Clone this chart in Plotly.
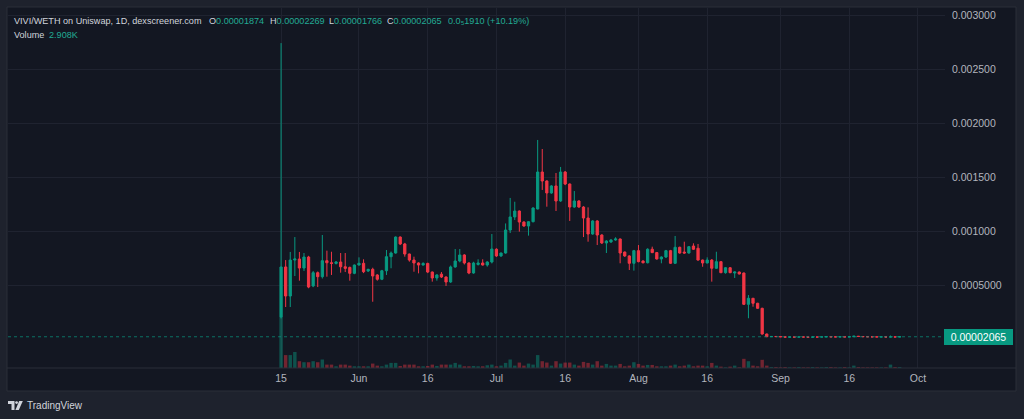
import plotly.graph_objects as go
import pandas as pd

# ---------------- data (prices in micro-ETH, i.e. x 1e-6) ----------------
START_DATE = "2024-05-15"
PRICE_UNIT = 1e-6

open_u = [204, 667, 398, 731, 741, 657, 759, 491, 614, 577,
          725, 706, 700, 713, 669, 663, 608, 685, 701, 630,
          645, 593, 553, 632, 762, 796, 944, 880, 787, 731,
          704, 685, 700, 620, 565, 600, 574, 528, 667, 722,
          778, 704, 611, 690, 704, 685, 713, 831, 769, 796,
          1009, 1130, 1185, 1083, 1046, 1086, 1204, 1546, 1463, 1352,
          1417, 1278, 1546, 1435, 1222, 1278, 1222, 1120, 972, 1093,
          963, 889, 898, 917, 926, 805, 769, 701, 818, 722,
          706, 831, 800, 741, 759, 818, 701, 849, 805, 796,
          861, 840, 731, 704, 731, 655, 716, 614, 660, 611,
          620, 611, 321, 377, 331, 284, 46.3, 21, 23.5, 22,
          20.5, 17, 18.5, 17.5, 19, 18, 17, 18.2, 17.8, 19.5,
          21, 19.8, 19.2, 20, 19, 20.5, 26, 23, 21.5, 20.5,
          19.8, 19, 19.5, 18.5, 19.5, 18.74]
high_u = [2740, 731, 806, 944, 806, 796, 770, 630, 625, 963,
          818, 808, 722, 796, 796, 670, 690, 756, 738, 650,
          660, 600, 640, 824, 810, 950, 950, 890, 790, 762,
          710, 710, 706, 625, 600, 620, 580, 680, 833, 833,
          785, 710, 715, 738, 738, 720, 972, 840, 800, 1070,
          1306, 1271, 1190, 1090, 1090, 1220, 1843, 1759, 1470, 1425,
          1537, 1593, 1555, 1440, 1370, 1285, 1230, 1219, 1100, 1100,
          970, 915, 925, 942, 930, 810, 775, 825, 870, 730,
          840, 855, 805, 765, 825, 825, 954, 855, 901, 860,
          886, 880, 735, 756, 740, 808, 720, 665, 665, 625,
          625, 615, 407, 380, 335, 290, 50, 25, 24, 22.5,
          21, 19, 19, 19.5, 19.5, 18.5, 18.5, 18.5, 20, 21.5,
          21.5, 20, 20.5, 20.3, 21, 27, 26.5, 23.5, 22, 21,
          20, 20, 19.8, 32, 19.8, 22.69]
low_u = [190, 296, 296, 583, 540, 630, 470, 480, 481, 560,
         577, 593, 690, 614, 620, 540, 600, 680, 610, 620,
         345, 540, 545, 593, 655, 790, 870, 762, 716, 623,
         608, 680, 610, 531, 540, 565, 491, 520, 660, 710,
         690, 600, 605, 680, 680, 670, 700, 760, 760, 790,
         981, 1102, 994, 1040, 957, 1080, 1200, 1380, 1225, 1345,
         1185, 1270, 1425, 1093, 1215, 1215, 944, 901, 965, 870,
         880, 796, 890, 910, 701, 760, 639, 633, 710, 700,
         700, 795, 735, 701, 750, 695, 695, 790, 790, 790,
         825, 725, 669, 700, 531, 650, 610, 605, 610, 565,
         598, 315, 192, 299, 280, 40, 18, 20, 21.5, 20,
         16.5, 16.5, 17, 17, 17.5, 16.5, 16.8, 17.5, 17.5, 19,
         19.5, 19, 19, 18.8, 18.8, 20, 22.5, 21, 20, 19.5,
         18.8, 18.8, 18.3, 18.3, 18.5, 17.66]
close_u = [667, 398, 731, 741, 657, 759, 481, 614, 577, 725,
           706, 700, 713, 669, 654, 608, 685, 701, 623, 645,
           583, 553, 632, 762, 796, 944, 880, 787, 731, 704,
           685, 700, 620, 565, 593, 574, 528, 667, 722, 778,
           704, 611, 704, 704, 685, 713, 833, 769, 796, 1009,
           1130, 1185, 1083, 1046, 1086, 1213, 1546, 1463, 1352, 1417,
           1278, 1546, 1435, 1222, 1278, 1222, 1120, 972, 1093, 963,
           889, 907, 917, 926, 796, 769, 701, 818, 716, 706,
           831, 800, 741, 759, 818, 701, 849, 796, 796, 855,
           831, 731, 704, 731, 655, 716, 614, 660, 614, 620,
           602, 321, 377, 331, 284, 46.3, 21, 23.5, 22, 20.5,
           17, 18.5, 17.5, 19, 18, 17, 18.2, 17.8, 19.5, 21,
           19.8, 19.2, 20, 19, 20.5, 26, 23, 21.5, 20.5, 19.8,
           19, 19.5, 18.5, 19.5, 18.74, 20.65]
volume_k = [150, 38, 38, 47, 20, 17, 17, 20, 17, 25,
            10, 10, 5, 10, 10, 7, 5, 5, 5, 5,
            13, 7, 5, 10, 15, 15, 6, 10, 10, 10,
            5, 5, 6, 10, 6, 10, 10, 10, 15, 10,
            5, 5, 6, 5, 5, 8, 10, 5, 7, 15,
            25, 7, 16, 7, 13, 10, 38, 20, 16, 7,
            20, 13, 16, 16, 10, 7, 18, 15, 10, 20,
            7, 12, 7, 7, 12, 5, 7, 17, 12, 7,
            9, 9, 5, 5, 5, 7, 10, 5, 7, 10,
            5, 7, 7, 5, 15, 7, 4, 2, 4, 7,
            2, 27, 20, 7, 5, 24, 7,
            3, 3, 2, 3, 2, 2, 3, 2, 2, 3, 2, 2, 3, 3, 2, 2, 3, 2, 7, 3,
            2, 2, 2, 2, 2, 2, 10, 3, 2.908]

x_tick_dates = ["2024-05-15", "2024-06-01", "2024-06-16", "2024-07-01", "2024-07-16",
                "2024-08-01", "2024-08-16", "2024-09-01", "2024-09-16", "2024-10-01"]
x_tick_labels = ["15", "Jun", "16", "Jul", "16", "Aug", "16", "Sep", "16", "Oct"]
y_tick_values = [0.0005, 0.001, 0.0015, 0.002, 0.0025, 0.003]
y_tick_labels = ["0.0005000", "0.001000", "0.001500", "0.002000", "0.002500", "0.003000"]

n = len(open_u)
assert len(high_u) == n and len(low_u) == n and len(close_u) == n and len(volume_k) == n

o = [v * PRICE_UNIT for v in open_u]
h = [v * PRICE_UNIT for v in high_u]
l = [v * PRICE_UNIT for v in low_u]
c = [v * PRICE_UNIT for v in close_u]
dates = pd.date_range(START_DATE, periods=n, freq="D")

UP = "#089981"
DOWN = "#f23645"
UP_VOL = "rgba(8,153,129,0.45)"
DOWN_VOL = "rgba(242,54,69,0.42)"
vol_colors = [UP_VOL if c[i] >= o[i] else DOWN_VOL for i in range(n)]

# ---------------- layout geometry (pixels) ----------------
W, H = 1024, 419
PL, PR, PT, PB = 8, 945, 8, 368
PW, PH = PR - PL, PB - PT


def px(xpx):
    return (xpx - PL) / PW


def py(ypx):
    return (PB - ypx) / PH


fig = go.Figure()
fig.add_trace(go.Bar(
    x=dates, y=volume_k, marker=dict(color=vol_colors, line=dict(width=0)),
    yaxis="y", xaxis="x", hoverinfo="skip", showlegend=False))
fig.add_trace(go.Candlestick(
    x=dates, open=o, high=h, low=l, close=c,
    increasing=dict(line=dict(color=UP, width=1), fillcolor=UP),
    decreasing=dict(line=dict(color=DOWN, width=1), fillcolor=DOWN),
    whiskerwidth=0, yaxis="y2", xaxis="x", showlegend=False, hoverinfo="skip"))

start = pd.Timestamp(START_DATE)
x_range = [start - pd.Timedelta(days=59.6), start + pd.Timedelta(days=144.9)]
price_per_px = 0.0005 / 54.0
y2_range = [-(PB - 339) * price_per_px, (339 - PT) * price_per_px]
vol_range = [0, max(volume_k) * PH / 51.0]

GRID = "#1f2330"
AXTXT = "#b2b5be"
FONT = "Liberation Sans, Arial, sans-serif"

fig.update_layout(
    width=W, height=H,
    margin=dict(l=PL, r=W - PR, t=PT, b=H - PB, pad=0),
    paper_bgcolor="#1e222d", plot_bgcolor="#131722",
    font=dict(family=FONT, color=AXTXT, size=10.5),
    bargap=0.25, showlegend=False,
    xaxis=dict(type="date", range=x_range, tickvals=x_tick_dates, ticktext=x_tick_labels,
               showgrid=True, gridcolor=GRID, gridwidth=1, zeroline=False, showline=False,
               ticks="", tickfont=dict(size=10.5, color=AXTXT), rangeslider=dict(visible=False),
               ticklabelstandoff=2, fixedrange=True),
    yaxis=dict(range=vol_range, visible=False, showgrid=False, fixedrange=True),
    yaxis2=dict(range=y2_range, overlaying="y", side="right", tickvals=y_tick_values,
                ticktext=y_tick_labels, showgrid=True, gridcolor=GRID, gridwidth=1,
                zeroline=False, showline=False, ticks="", tickfont=dict(size=10.5, color=AXTXT),
                ticklabelstandoff=6, fixedrange=True),
)

shapes = [
    # chart frame
    dict(type="rect", xref="paper", yref="paper", x0=px(7), x1=px(1016), y0=py(391), y1=py(7),
         fillcolor="#131722", line=dict(color="#2a2e39", width=1), layer="below"),
    # time-axis separator
    dict(type="line", xref="paper", yref="paper", x0=px(7), x1=px(1016), y0=0, y1=0,
         line=dict(color="#2a2e39", width=1)),
    # last price line
    dict(type="line", xref="paper", yref="y2", x0=0, x1=1, y0=c[-1], y1=c[-1],
         line=dict(color="rgba(8,153,129,0.7)", width=1, dash="dot")),
]


def poly(points):
    return "M " + " L ".join(f"{px(a)},{py(b)}" for a, b in points) + " Z"


LOGO = "#d1d4dc"
shapes += [
    dict(type="path", xref="paper", yref="paper", fillcolor=LOGO, line=dict(width=0),
         path=poly([(8, 401), (14.5, 401), (14.5, 410), (11.5, 410), (11.5, 404), (8, 404)])),
    dict(type="circle", xref="paper", yref="paper", fillcolor=LOGO, line=dict(width=0),
         x0=px(15.2), x1=px(18), y0=py(404), y1=py(401.2)),
    dict(type="path", xref="paper", yref="paper", fillcolor=LOGO, line=dict(width=0),
         path=poly([(19.2, 401), (22.8, 401), (18.8, 410), (15.4, 410)])),
]
fig.update_layout(shapes=shapes)

TITLE = "#d1d4dc"
VAL = "#22ab94"
HSIZE = 9.1


def ann(xpx, ypx, text, size=HSIZE, color=TITLE, **kw):
    fig.add_annotation(xref="paper", yref="paper", x=px(xpx), y=py(ypx), text=text,
                       showarrow=False, xanchor="left", yanchor="middle",
                       font=dict(family=FONT, size=size, color=color), borderpad=0, **kw)


def fmt(v):
    return f"{v:.8f}"


chg = close_u[-1] - close_u[-2]
pct = (close_u[-1] / close_u[-2] - 1) * 100
chg_txt = "0.0\u2085" + f"{chg * 1000:.0f}"  # 0.0₅1910
ann(13, 21.4, "VIVI/WETH on Uniswap, 1D, dexscreener.com")
ann(208, 21.4, f"O<span style='color:{VAL}'>{fmt(o[-1])}</span>")
ann(269, 21.4, f"H<span style='color:{VAL}'>{fmt(h[-1])}</span>")
ann(328, 21.4, f"L<span style='color:{VAL}'>{fmt(l[-1])}</span>")
ann(386, 21.4, f"C<span style='color:{VAL}'>{fmt(c[-1])}</span>")
ann(447, 21.4, f"{chg_txt} ({pct:+.2f}%)", color=VAL)
ann(13, 35, "Volume")
ann(48, 35, f"{volume_k[-1]:.3f}K", color=VAL)

# last price label on the price scale
fig.add_annotation(xref="paper", yref="y2", x=px(944), y=c[-1], text=f"{c[-1]:.8f}",
                   showarrow=False, xanchor="left", yanchor="middle", bgcolor=UP,
                   font=dict(family=FONT, size=10.5, color="#ffffff"),
                   width=65, height=12, borderpad=1, borderwidth=1, bordercolor=UP)

# footer brand
ann(26, 405.5, "TradingView", size=10, color=LOGO)

fig.write_html("out.html", config={"displayModeBar": False, "staticPlot": True})
